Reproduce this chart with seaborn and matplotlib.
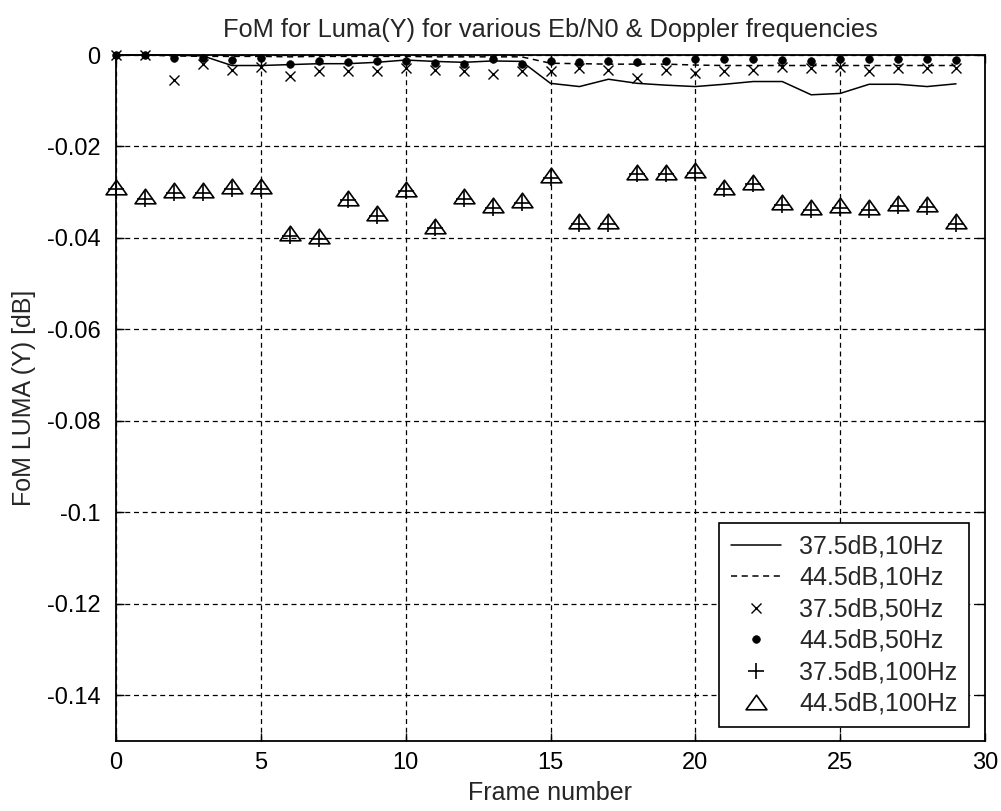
import numpy as np
import pandas as pd
import matplotlib
matplotlib.use("Agg")
import matplotlib.pyplot as plt
from matplotlib.path import Path
import seaborn as sns

# ---------------- data ----------------
frames = list(range(30))

fom_375_10 = [0.0, 0.0, 0.0, -0.0002, -0.0023, -0.0023, -0.0021, -0.0019, -0.0019, -0.0016,
              -0.0011, -0.0014, -0.0016, -0.0013, -0.0014, -0.0062, -0.0069, -0.0053, -0.0062, -0.0066,
              -0.0069, -0.0064, -0.0058, -0.0058, -0.0087, -0.0084, -0.0064, -0.0064, -0.0069, -0.0063]

fom_445_10 = [0.0, 0.0, -0.0002, -0.0003, -0.0003, -0.0003, -0.0004, -0.0003, -0.0003, -0.0003,
              -0.0003, -0.0004, -0.0004, -0.0004, -0.0004, -0.0018, -0.0019, -0.0020, -0.0020, -0.0020,
              -0.0022, -0.0023, -0.0023, -0.0023, -0.0023, -0.0023, -0.0023, -0.0023, -0.0023, -0.0023]

fom_375_50 = [0.0, 0.0, -0.0055, -0.0020, -0.0033, -0.0026, -0.0045, -0.0035, -0.0035, -0.0036,
              -0.0028, -0.0032, -0.0035, -0.0042, -0.0035, -0.0035, -0.0028, -0.0032, -0.0050, -0.0032,
              -0.0040, -0.0034, -0.0032, -0.0027, -0.0028, -0.0027, -0.0034, -0.0028, -0.0028, -0.0028]

fom_445_50 = [0.0, 0.0, -0.0007, -0.0007, -0.0011, -0.0007, -0.0020, -0.0014, -0.0015, -0.0014,
              -0.0014, -0.0018, -0.0020, -0.0009, -0.0020, -0.0014, -0.0015, -0.0014, -0.0016, -0.0014,
              -0.0009, -0.0009, -0.0009, -0.0011, -0.0014, -0.0009, -0.0009, -0.0009, -0.0009, -0.0011]

fom_445_100 = [-0.0288, -0.0308, -0.0295, -0.0295, -0.0286, -0.0286, -0.0390, -0.0396, -0.0312, -0.0346,
               -0.0292, -0.0373, -0.0308, -0.0328, -0.0317, -0.0262, -0.0364, -0.0364, -0.0255, -0.0255,
               -0.0251, -0.0288, -0.0277, -0.0321, -0.0332, -0.0329, -0.0332, -0.0324, -0.0326, -0.0364]

fom_375_100 = [-0.0294, -0.0314, -0.0301, -0.0301, -0.0292, -0.0292, -0.0396, -0.0402, -0.0318, -0.0352,
               -0.0298, -0.0379, -0.0314, -0.0334, -0.0323, -0.0268, -0.0370, -0.0370, -0.0261, -0.0261,
               -0.0257, -0.0294, -0.0283, -0.0327, -0.0338, -0.0335, -0.0338, -0.0330, -0.0332, -0.0370]

labels = ["37.5dB,10Hz", "44.5dB,10Hz", "37.5dB,50Hz", "44.5dB,50Hz", "37.5dB,100Hz", "44.5dB,100Hz"]

x_ticks = [0, 5, 10, 15, 20, 25, 30]
y_ticks = [0, -0.02, -0.04, -0.06, -0.08, -0.1, -0.12, -0.14]
y_tick_labels = ["0", "-0.02", "-0.04", "-0.06", "-0.08", "-0.1", "-0.12", "-0.14"]

title = "FoM for Luma(Y) for various Eb/N0 & Doppler frequencies"
xlabel = "Frame number"
ylabel = "FoM LUMA (Y) [dB]"

# ---------------- style ----------------
sns.set_style("white")
plt.rcParams['font.family'] = ['Liberation Sans', 'DejaVu Sans']
FS_TICK = 17
FS_TEXT = 18

fig = plt.figure(figsize=(10.01, 8.11), dpi=100)
ax = fig.add_axes([116 / 1001, 1 - 741 / 811, (985 - 116) / 1001, (741 - 55) / 811])

tri = Path([(0, 0.7), (-1, -0.7), (1, -0.7), (0, 0.7)],
           [Path.MOVETO, Path.LINETO, Path.LINETO, Path.CLOSEPOLY])

common = dict(ax=ax, color="black", sort=False, clip_on=False)
sns.lineplot(x=frames, y=fom_375_10, linestyle="-", linewidth=1.1, label=labels[0], **common)
sns.lineplot(x=frames, y=fom_445_10, linestyle=(0, (4, 3)), linewidth=1.1, label=labels[1], **common)
sns.lineplot(x=frames, y=fom_375_50, linestyle="", marker="x", markersize=7,
             markeredgewidth=1.0, markeredgecolor="black", label=labels[2], **common)
sns.lineplot(x=frames, y=fom_445_50, linestyle="", marker="o", markersize=5.5,
             markeredgewidth=0.5, markeredgecolor="black", markerfacecolor="black",
             label=labels[3], **common)
sns.lineplot(x=frames, y=fom_375_100, linestyle="", marker="+", markersize=12,
             markeredgewidth=1.2, markeredgecolor="black", label=labels[4], **common)
sns.lineplot(x=frames, y=fom_445_100, linestyle="", marker=tri, markersize=15,
             markerfacecolor="none", markeredgecolor="black", markeredgewidth=1.2,
             label=labels[5], **common)

ax.set_xlim(0, 30)
ax.set_ylim(-0.15, 0)
ax.set_xticks(x_ticks)
ax.set_xticklabels([str(t) for t in x_ticks])
ax.set_yticks(y_ticks)
ax.set_yticklabels(y_tick_labels)

ax.grid(True, color="black", linestyle=(0, (4, 3)), linewidth=0.9)
ax.set_axisbelow(True)
for sp in ax.spines.values():
    sp.set_visible(True)
    sp.set_color("black")
    sp.set_linewidth(1.3)

ax.tick_params(axis="both", which="both", direction="in", length=6, width=1.0,
               top=True, right=True, bottom=True, left=True, labelsize=FS_TICK, colors="black")
ax.tick_params(axis="y", pad=11)
ax.tick_params(axis="x", pad=8)

ax.set_title(title, fontsize=18.3, pad=13)
ax.set_xlabel(xlabel, fontsize=FS_TEXT, labelpad=5)
ax.set_ylabel(ylabel, fontsize=FS_TEXT, labelpad=8)

leg = ax.legend(loc="lower right", bbox_to_anchor=((969 - 116) / 869, 14 / 686),
                borderaxespad=0, fontsize=FS_TEXT, frameon=True, fancybox=False, framealpha=1,
                edgecolor="black", handlelength=2.0, handletextpad=0.75, labelspacing=0.3,
                numpoints=1, borderpad=0.45)
leg.get_frame().set_linewidth(1.2)

fig.savefig("out.png", dpi=100, facecolor="white")
